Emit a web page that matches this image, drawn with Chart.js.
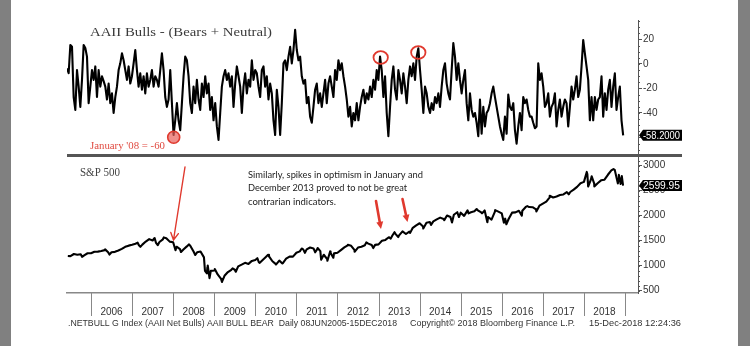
<!DOCTYPE html>
<html>
<head>
<meta charset="utf-8">
<script src="https://cdn.jsdelivr.net/npm/chart.js@4"></script>
<style>
  html, body { margin: 0; padding: 0; background: #fff; }
  #wrap { position: relative; width: 750px; height: 346px; }
  canvas { position: absolute; left: 0; top: 0; }
</style>
</head>
<body>
<div id="wrap">
  <canvas id="spx" width="750" height="346"></canvas>
  <canvas id="bulls" width="750" height="346"></canvas>
</div>
<script>
// x axis: decimal years
const X_MIN = 2005.416
const X_MAX = 2019.316
const yearLabels = [2006, 2007, 2008, 2009, 2010, 2011, 2012, 2013, 2014, 2015, 2016, 2017, 2018]

const netBullsFirst = 2005.416
const netBullsLast = 2018.955
const netBulls = [
  -3.5, -7.6, 15.5, 14, -27, -37.5, -5, -18.5, -35, -13,
  15.5, 13, 6, -32, -18.5, -5, -13, -2, -27, -5,
  -18.5, -10, -14, -18.5, -29, -16, -32, -24, -40, -27,
  -18.5, -5, 0.5, 8.7, 3, -5, -13, -2, -16, -10,
  0.5, 11.4, -5, -18.5, -7.6, -21, -10, -24, -7.6, -18.5,
  -13, -5, -18.5, -10, -13, -18.5, -5, 8.7, -5, -27,
  -35, -29, -5, -32, -58, -46, -32, -46, -54, -32,
  -10, 6, 3, -10, -32, -40, -18.5, -32, -13, -29,
  -37.5, -16, -27, -10, -24, -16, -37.5, -27, -46, -32,
  -51, -62, -40, -18.5, -10, -5, -13, -7.6, -18.5, -10,
  -35, -16, -2, -10, -18.5, -40, -18.5, -7.6, -24, -13,
  -18.5, 3, -13, -5,
  -7.6, -18.5, -27, -5, -2, -18.5, -10, -29, -16, -24,
  -46, -58, -21, -35, -58, -32, 0.5, 3, -5, 6,
  14, 0.5, 11.4, 27.8, 11.4, 3, 6, -10, -16, -13,
  -32, -27, -43, -48, -35, -21, -16, -32, -24, -35,
  -24, -13, -32, -16, -10, -18.5, -27, -5, -13, 3,
  -5, 0.5, -10, -18.5, -29, -43, -35, -51, -40, -46,
  -32, -46, -35, -27, -21, -32, -24, -29, -18.5, -27,
  -13, -21, -5, -13, 6, -5, -27, -10, -40, -59,
  -35, -13, -2, -21, -29, -5, -13, -24, -7.6, -18.5,
  -32, -13, -2, -10, 0.5, -13, 6, 12.8, -5, -21,
  -40, -18.5, -24, -35, -40, -32, -37.5, -27, -32, -24,
  -35, -18.5, -5,
  0.5, -16, -24, -29, -5, 17, 6, -13, 0.5, -13,
  -24, -13, -5, -32, -46, -24, -37.5, -43, -40, -48,
  -59, -29, -57, -35, -51, -40, -37.5, -32, -24, -18.5,
  -27, -35, -43, -51, -57, -62, -43, -57, -25, -35,
  -37.5, -32, -54, -65, -51, -40, -54, -27, -32, -29,
  -37.5, -43, -43, -48, -52.5, -51, 0.5, -13, -7.6, -18.5,
  -35, -32, -24, -43, -35, -32, -24, -51, -37.5, -29,
  -43, -35, -29, -32, -51, -35, -18.5, -29, -21, -10,
  -27, -21, -2, 19.6, 8.7, -2, -13, -46, -27, -46,
  -27, -37.5, -29, -27, -10, -43, -24, -37.5, -21, -13,
  -35, -18.5, -7.6, -37.5, -27, -18.5, -46, -58.2
]
const bullsTicks = [-60, -40, -20, 0, 20]
const lastBulls = '-58.2000'

// S&P 500 month-end closes, Jun 2005 .. Nov 2018
const spxMonthly = [
  1191, 1234, 1220, 1229, 1207, 1249, 1248,
  1280, 1281, 1295, 1311, 1270, 1270, 1277, 1304, 1336, 1378, 1401, 1418,
  1438, 1407, 1421, 1482, 1531, 1503, 1455, 1474, 1527, 1549, 1481, 1468,
  1379, 1331, 1323, 1386, 1400, 1280, 1267, 1283, 1166, 969, 896, 903,
  826, 735, 798, 873, 919, 919, 987, 1021, 1057, 1036, 1096, 1115,
  1074, 1104, 1169, 1187, 1089, 1031, 1102, 1049, 1141, 1183, 1181, 1258,
  1286, 1327, 1326, 1364, 1345, 1321, 1292, 1219, 1131, 1253, 1247, 1258,
  1312, 1366, 1408, 1398, 1310, 1362, 1379, 1407, 1441, 1412, 1416, 1426,
  1498, 1515, 1569, 1598, 1631, 1606, 1686, 1633, 1682, 1757, 1806, 1848,
  1783, 1859, 1872, 1884, 1924, 1960, 1931, 2003, 1972, 2018, 2068, 2059,
  1995, 2105, 2068, 2086, 2107, 2063, 2104, 1972, 1920, 2079, 2080, 2044,
  1940, 1932, 2060, 2065, 2097, 2099, 2174, 2171, 2168, 2126, 2199, 2239,
  2279, 2364, 2363, 2384, 2412, 2423, 2470, 2472, 2519, 2575, 2648, 2674,
  2824, 2714, 2641, 2648, 2705, 2718, 2816, 2902, 2914, 2712, 2760
]
// intra-month highs and lows that show in the line
const spxExtraDates = [
  '2005-06-08', '2005-10-13', '2006-05-05', '2006-06-13', '2007-02-20', '2007-03-14',
  '2007-07-19', '2007-08-16', '2007-10-09', '2008-01-22', '2008-03-10', '2008-05-19',
  '2008-07-15', '2008-10-10', '2008-10-27', '2008-11-04', '2008-11-20', '2009-01-06',
  '2009-03-09', '2009-06-12', '2009-07-10', '2010-01-19', '2010-02-08', '2010-04-23',
  '2010-07-02', '2010-08-26', '2011-02-18', '2011-03-16', '2011-06-16', '2011-07-07',
  '2011-08-08', '2011-10-03', '2011-10-27', '2011-11-25', '2012-04-02', '2012-06-01',
  '2012-09-14', '2012-11-15', '2013-04-18', '2013-05-21', '2013-06-24', '2013-10-08',
  '2014-02-03', '2014-04-11', '2014-08-07', '2014-10-15', '2014-12-16', '2015-03-10',
  '2015-05-21', '2015-07-08', '2015-08-25', '2015-11-03', '2016-01-20', '2016-02-11',
  '2016-06-27', '2016-08-15', '2016-11-04', '2017-03-01', '2017-08-18', '2018-01-26',
  '2018-02-08', '2018-03-09', '2018-04-02', '2018-09-20', '2018-10-29', '2018-11-07',
  '2018-11-23', '2018-12-03', '2018-12-14'
]
const spxExtraValues = [
  1195, 1177, 1326, 1223, 1460, 1377,
  1553, 1411, 1565, 1310, 1273, 1426,
  1214, 899, 848, 1005, 752, 935,
  677, 946, 879, 1150, 1056, 1217,
  1023, 1047, 1343, 1257, 1268, 1353,
  1119, 1099, 1285, 1159, 1419, 1278,
  1466, 1353, 1541, 1669, 1573, 1656,
  1742, 1815, 1910, 1862, 1972, 2044,
  2131, 2046, 1867, 2110, 1859, 1829,
  2000, 2190, 2085, 2396, 2426, 2873,
  2581, 2786, 2582, 2931, 2641, 2814,
  2633, 2790, 2599.95
]
const spxTicks = [500, 1000, 1500, 2000, 2500, 3000]
const lastSpx = '2599.95'

const RED = '#e0392e'
const TEXT = '#333'
const TICK_FONT = "'Liberation Sans Narrow', 'Liberation Sans', Arial, sans-serif"

function decYear (s) {
  const [y, m, d] = s.split('-').map(Number)
  return y + (m - 1) / 12 + (d - 1) / 365
}

const bullsStep = (netBullsLast - netBullsFirst) / (netBulls.length - 1)
const bullsPoints = netBulls.map((v, i) => ({ x: netBullsFirst + i * bullsStep, y: v }))

const spxPoints = spxMonthly
  .map((v, i) => ({ x: 2005 + (6 + i) / 12, y: v }))
  .concat(spxExtraDates.map((d, i) => ({ x: decYear(d), y: spxExtraValues[i] })))
  .sort((a, b) => a.x - b.x)

// draw text squeezed or stretched to a given width
function fitText (ctx, text, x, y, w, font, color) {
  ctx.save()
  ctx.font = font
  ctx.fillStyle = color
  ctx.textBaseline = 'middle'
  ctx.textAlign = 'left'
  const m = ctx.measureText(text).width
  ctx.translate(x, y)
  ctx.scale(w / m, 1)
  ctx.fillText(text, 0, 0)
  ctx.restore()
}

function arrow (ctx, x0, y0, x1, y1, width, head, filled) {
  const a = Math.atan2(y1 - y0, x1 - x0)
  ctx.save()
  ctx.strokeStyle = RED
  ctx.fillStyle = RED
  ctx.lineWidth = width
  ctx.lineCap = 'round'
  ctx.beginPath()
  ctx.moveTo(x0, y0)
  if (filled) {
    ctx.lineTo(x1 - head * 0.8 * Math.cos(a), y1 - head * 0.8 * Math.sin(a))
    ctx.stroke()
    ctx.beginPath()
    ctx.moveTo(x1, y1)
    ctx.lineTo(x1 - head * Math.cos(a - 0.45), y1 - head * Math.sin(a - 0.45))
    ctx.lineTo(x1 - head * Math.cos(a + 0.45), y1 - head * Math.sin(a + 0.45))
    ctx.closePath()
    ctx.fill()
  } else {
    ctx.lineTo(x1, y1)
    ctx.moveTo(x1 - head * Math.cos(a - 0.5), y1 - head * Math.sin(a - 0.5))
    ctx.lineTo(x1, y1)
    ctx.lineTo(x1 - head * Math.cos(a + 0.5), y1 - head * Math.sin(a + 0.5))
    ctx.stroke()
  }
  ctx.restore()
}

function valueBox (ctx, text, y) {
  const x0 = 639
  const x1 = 682
  const h = 11
  ctx.save()
  ctx.fillStyle = '#000'
  ctx.beginPath()
  ctx.moveTo(x0, y)
  ctx.lineTo(x0 + 4, y - h / 2)
  ctx.lineTo(x1, y - h / 2)
  ctx.lineTo(x1, y + h / 2)
  ctx.lineTo(x0 + 4, y + h / 2)
  ctx.closePath()
  ctx.fill()
  ctx.restore()
  fitText(ctx, text, x0 + 4, y + 0.5, x1 - x0 - 6, '10px ' + TICK_FONT, '#fff')
}

function minorTicks (ctx, scale, from, to, step) {
  ctx.save()
  ctx.strokeStyle = '#555'
  ctx.lineWidth = 1
  ctx.beginPath()
  for (let v = from; v <= to; v += step) {
    if (v < scale.min || v > scale.max) continue
    const y = Math.round(scale.getPixelForValue(v)) + 0.5
    ctx.moveTo(scale.left, y)
    ctx.lineTo(scale.left + 2, y)
  }
  ctx.stroke()
  ctx.restore()
}

function rightAxis (min, max, ticks) {
  return {
    position: 'right',
    min,
    max,
    afterBuildTicks: s => { s.ticks = ticks.map(v => ({ value: v })) },
    afterFit: s => { s.width = 112 },
    grid: { drawOnChartArea: false, tickLength: 4, color: '#555' },
    border: { color: '#555', width: 1 },
    ticks: { padding: 1, color: TEXT, font: { family: TICK_FONT, size: 10 }, callback: v => String(v) }
  }
}

const spxDecor = {
  id: 'spxDecor',
  beforeDraw (chart) {
    const ctx = chart.ctx
    ctx.save()
    ctx.fillStyle = '#fff'
    ctx.fillRect(0, 0, 750, 346)
    ctx.fillStyle = '#808080'
    ctx.fillRect(0, 0, 11, 346)
    ctx.fillRect(738, 0, 12, 346)
    ctx.restore()
  },
  afterDraw (chart) {
    const ctx = chart.ctx
    const xs = chart.scales.x
    const ys = chart.scales.y

    // year dividers under the axis
    ctx.save()
    ctx.strokeStyle = '#888'
    ctx.lineWidth = 1
    ctx.beginPath()
    yearLabels.concat([2019]).forEach(yr => {
      const x = Math.round(xs.getPixelForValue(yr)) + 0.5
      ctx.moveTo(x, chart.chartArea.bottom)
      ctx.lineTo(x, 316)
    })
    ctx.stroke()

    // separator between the panels
    ctx.strokeStyle = '#555'
    ctx.lineWidth = 3
    ctx.beginPath()
    ctx.moveTo(67, 155.5)
    ctx.lineTo(682, 155.5)
    ctx.stroke()
    ctx.restore()

    minorTicks(ctx, ys, 500, 3100, 100)

    fitText(ctx, 'S&P 500', 80, 173, 40, "12px 'Liberation Serif', serif", '#444')

    const noteFont = "10px Lato, 'Open Sans', sans-serif"
    fitText(ctx, 'Similarly, spikes in optimism in January and', 248, 175, 175, noteFont, '#222')
    fitText(ctx, 'December 2013 proved to not be great', 248, 188, 159, noteFont, '#222')
    fitText(ctx, 'contrarian indicators.', 248, 202, 88, noteFont, '#222')

    arrow(ctx, 185, 167, 173.5, 240, 1.4, 8, false)
    arrow(ctx, 376, 201, 381, 229, 2.6, 8, true)
    arrow(ctx, 402.5, 199, 407.5, 222, 2.6, 8, true)

    const footFont = '9px ' + TICK_FONT
    fitText(ctx, '.NETBULL G Index (AAII Net Bulls) AAII BULL BEAR  Daily 08JUN2005-15DEC2018', 68, 324, 329, footFont, TEXT)
    fitText(ctx, 'Copyright\u00a9 2018 Bloomberg Finance L.P.', 410, 324, 165, footFont, TEXT)
    fitText(ctx, '15-Dec-2018 12:24:36', 589, 324, 92, footFont, TEXT)

    valueBox(ctx, lastSpx, ys.getPixelForValue(2599.95))
  }
}

const bullsDecor = {
  id: 'bullsDecor',
  afterDraw (chart) {
    const ctx = chart.ctx
    const ys = chart.scales.y
    minorTicks(ctx, ys, -70, 35, 5)

    fitText(ctx, 'AAII Bulls - (Bears + Neutral)', 90, 33, 182, "13px 'Liberation Serif', serif", '#3a3a3a')
    fitText(ctx, "January '08 = -60", 90, 146, 75, "11px 'Liberation Serif', serif", '#e04a40')

    ctx.save()
    ctx.lineWidth = 1.6
    ctx.strokeStyle = RED
    ctx.fillStyle = 'rgba(232, 95, 90, 0.7)'
    ctx.beginPath()
    ctx.arc(173.7, 137.3, 6, 0, Math.PI * 2)
    ctx.fill()
    ctx.stroke()
    ctx.lineWidth = 1.8
    ctx.beginPath()
    ctx.ellipse(380.7, 57.5, 7.2, 6.3, 0, 0, Math.PI * 2)
    ctx.stroke()
    ctx.beginPath()
    ctx.ellipse(418.3, 52.5, 7.2, 6.3, 0, 0, Math.PI * 2)
    ctx.stroke()
    ctx.restore()

    valueBox(ctx, lastBulls, ys.getPixelForValue(-58.2))
  }
}

Chart.defaults.animation = false
Chart.defaults.events = []

new Chart(document.getElementById('spx'), {
  type: 'line',
  data: {
    datasets: [{
      data: spxPoints,
      borderColor: '#000',
      borderWidth: 2.1,
      pointRadius: 0,
      tension: 0,
      borderJoinStyle: 'round'
    }]
  },
  options: {
    responsive: false,
    layout: { padding: { left: 67, top: 157, right: 0, bottom: 0 } },
    plugins: { legend: { display: false }, tooltip: { enabled: false } },
    scales: {
      x: {
        type: 'linear',
        min: X_MIN,
        max: X_MAX,
        afterBuildTicks: s => { s.ticks = yearLabels.map(y => ({ value: y + 0.5 })) },
        afterFit: s => { s.height = 53 },
        grid: { display: true, drawOnChartArea: false, drawTicks: false },
        border: { color: '#888', width: 1.5 },
        ticks: {
          padding: 13,
          autoSkip: false,
          maxRotation: 0,
          color: TEXT,
          font: { family: TICK_FONT, size: 10 },
          callback: v => String(Math.floor(v))
        }
      },
      y: rightAxis(455, 3171, spxTicks)
    }
  },
  plugins: [spxDecor]
})

new Chart(document.getElementById('bulls'), {
  type: 'line',
  data: {
    datasets: [{
      data: bullsPoints,
      borderColor: '#000',
      borderWidth: 2.1,
      pointRadius: 0,
      tension: 0,
      borderJoinStyle: 'round'
    }]
  },
  options: {
    responsive: false,
    layout: { padding: { left: 67, top: 20, right: 0, bottom: 192 } },
    plugins: { legend: { display: false }, tooltip: { enabled: false } },
    scales: {
      x: { type: 'linear', display: false, min: X_MIN, max: X_MAX },
      y: rightAxis(-73.5, 35.9, bullsTicks)
    }
  },
  plugins: [bullsDecor]
})
</script>
</body>
</html>
